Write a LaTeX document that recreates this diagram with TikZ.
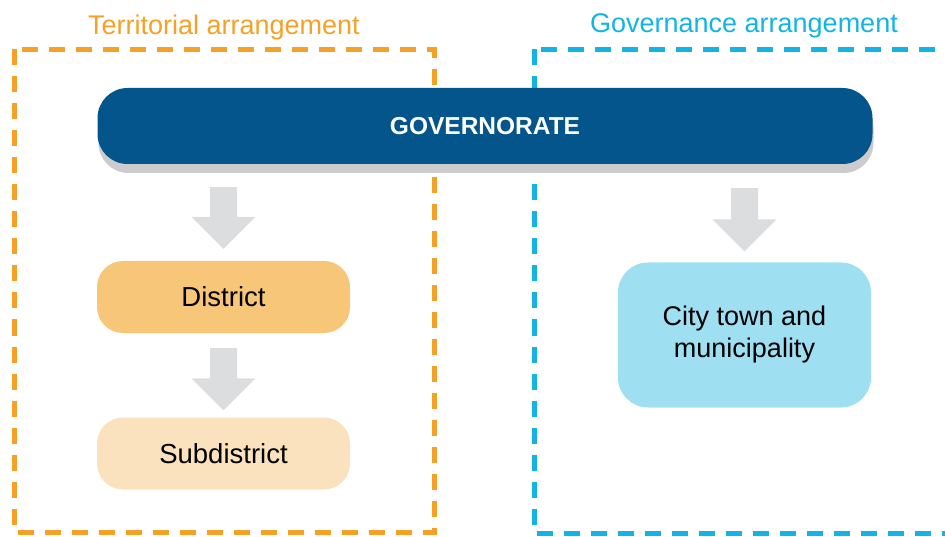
\documentclass[tikz,border=0pt]{standalone}
\usepackage{fontspec}
\setmainfont{Liberation Sans}
\usetikzlibrary{calc,shadows}

\definecolor{barblue}{HTML}{03558C}
\definecolor{terrorange}{HTML}{F5A128}
\definecolor{govcyan}{HTML}{12B4E4}
\definecolor{districtfill}{HTML}{F8C679}
\definecolor{subfill}{HTML}{FBE2BF}
\definecolor{cityfill}{HTML}{9EE0F2}
\definecolor{arrowgrey}{HTML}{DCDDDF}
\definecolor{shadowgrey}{HTML}{CCCCCC}

\tikzset{
  frame/.style={line width=5pt, dash pattern=on 16pt off 11pt},
  heading/.style={anchor=base, inner sep=0pt, font=\fontsize{27}{32}\selectfont},
  levelbox/.style={rounded corners=26pt, inner sep=0pt, minimum width=253pt,
    minimum height=72pt, text height=19.5pt, text depth=0pt,
    font=\fontsize{27.5}{32}\selectfont},
  blockarrow/.style={to path={let \p1=(\tikztostart), \p2=(\tikztotarget) in
    (\x1-13.5pt,\y1) -- (\x1+13.5pt,\y1) -- (\x1+13.5pt,\y2+32pt)
    -- (\x1+32pt,\y2+32pt) -- (\x1,\y2) -- (\x1-32pt,\y2+32pt)
    -- (\x1-13.5pt,\y2+32pt) -- cycle}}
}

\begin{document}
\begin{tikzpicture}[x=1pt,y=-1pt]
  \useasboundingbox (0,0) rectangle (945,537);

  % dashed frames of the two arrangements
  \draw[frame, terrorange] (14,49.5) rectangle (434.5,532);
  \draw[frame, govcyan] (534,49.5) rectangle (980,533);

  \node[heading, text=terrorange] (terrtitle) at (224,35) {Territorial arrangement};
  \node[heading, text=govcyan] (govtitle) at (744,33) {Governance arrangement};

  % top level
  \node[fill=barblue, rounded corners=30pt, minimum width=775pt, minimum height=76pt,
        inner sep=0pt, text=white, font=\fontsize{24.5}{28}\bfseries,
        text height=17.5pt, text depth=0pt,
        drop shadow={shadow xshift=1pt, shadow yshift=-9pt, fill=shadowgrey, opacity=1}]
        (gov) at (485,126) {GOVERNORATE};

  % territorial levels
  \node[levelbox, fill=districtfill] (dist) at (223.5,297) {District};
  \node[levelbox, fill=subfill] (sub) at (223.5,453.5) {Subdistrict};

  % governance level
  \node[levelbox, fill=cityfill, rounded corners=30pt, minimum height=145pt,
        text height=, text depth=, align=center,
        font=\fontsize{27}{32}\selectfont] (city) at (744.5,335)
        {City town and\\municipality};

  % block arrows between levels
  \fill[arrowgrey] ($(gov.south -| dist.north)+(0,23)$) to[blockarrow] ($(dist.north)+(0,-12)$);
  \fill[arrowgrey] ($(dist.south)+(0,15)$) to[blockarrow] ($(sub.north)+(0,-7)$);
  \fill[arrowgrey] ($(gov.south -| city.north)+(0,24)$) to[blockarrow] ($(city.north)+(0,-11)$);
\end{tikzpicture}
\end{document}
